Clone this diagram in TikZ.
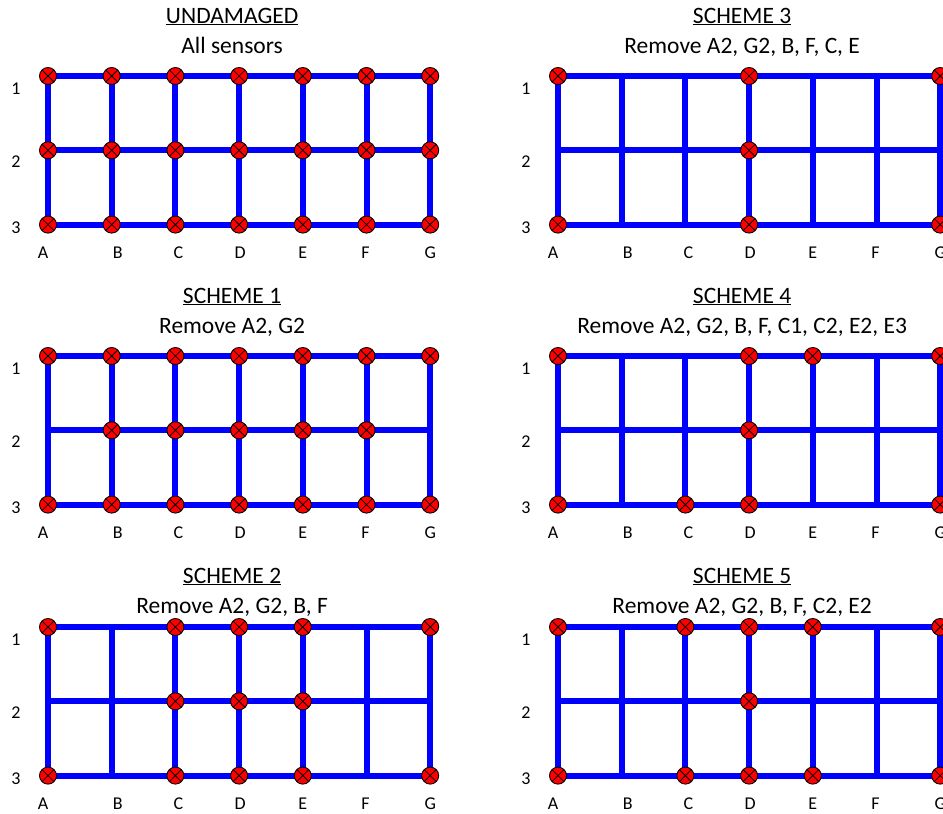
\documentclass[tikz,border=0pt]{standalone}
\usepackage{fontspec}
\setmainfont{Carlito}
\usepackage{xcolor}
\usepackage{tikz}
\usetikzlibrary{calc}
\definecolor{beamblue}{RGB}{0,0,255}
\definecolor{sensorred}{RGB}{255,0,0}
\tikzset{
  beam/.style={beamblue,line width=6pt},
  sensor/.style={circle,draw=black,fill=sensorred,line width=0.9pt,
    minimum size=17pt,inner sep=0pt,
    path picture={\draw[line width=0.8pt]
      (path picture bounding box.north west) -- (path picture bounding box.south east)
      (path picture bounding box.north east) -- (path picture bounding box.south west);}},
  headtext/.style={anchor=base,font=\fontsize{23.5}{26}\selectfont},
  gridlabel/.style={anchor=base,font=\fontsize{18}{20}\selectfont}
}
% #1 panel, #2 x of A1, #3 y of A1, #4 title shift, #5 title, #6 subtitle, #7 sensors
\newcommand{\sensorpanel}[7]{%
  \foreach \c [count=\i from 0] in {A,...,G}{
    \foreach \r [count=\j from 0] in {1,2,3}
      \coordinate (#1-\c\r) at ({#2+\i*63.7},{#3+\j*74.3});
  }
  \draw[beam] (#1-A1) -- (#1-G1) -- (#1-G3) -- (#1-A3) -- cycle;
  \draw[beam] (#1-A2) -- (#1-G2);
  \foreach \c in {B,...,F}
    \draw[beam] (#1-\c1) -- (#1-\c3);
  \foreach \s in {#7}
    \node[sensor] (#1-s\s) at (#1-\s) {};
  \node[headtext] (#1-title) at ($(#1-A1)!0.5!(#1-G1)+(-7,{-53+#4})$) {\underline{#5}};
  \node[headtext] (#1-sub) at ($(#1-A1)!0.5!(#1-G1)+(-7,{-23+#4})$) {#6};
  \node[gridlabel] (#1-row1) at ($(#1-A1)+(-32,18)$) {1};
  \node[gridlabel] (#1-row2) at ($(#1-A2)+(-32,17)$) {2};
  \node[gridlabel] (#1-row3) at ($(#1-A3)+(-32,9)$) {3};
  \foreach \c/\dx in {A/-5,B/6,C/3,D/1,E/0,F/-1,G/0}
    \node[gridlabel] (#1-col\c) at ($(#1-\c3)+(\dx,34)$) {\c};
}

\begin{document}
\begin{tikzpicture}[x=1pt,y=-1pt]
  \useasboundingbox (0,0) rectangle (943,814);
  \sensorpanel{und}{48}{76}{0}{UNDAMAGED}{All sensors}
    {A1,A2,A3,B1,B2,B3,C1,C2,C3,D1,D2,D3,E1,E2,E3,F1,F2,F3,G1,G2,G3}
  \sensorpanel{sa}{48}{356}{0}{SCHEME 1}{Remove A2, G2}
    {A1,A3,B1,B2,B3,C1,C2,C3,D1,D2,D3,E1,E2,E3,F1,F2,F3,G1,G3}
  \sensorpanel{sb}{48}{627}{9}{SCHEME 2}{Remove A2, G2, B, F}
    {A1,A3,C1,C2,C3,D1,D2,D3,E1,E2,E3,G1,G3}
  \sensorpanel{sc}{558}{76}{0}{SCHEME 3}{Remove A2, G2, B, F, C, E}
    {A1,A3,D1,D2,D3,G1,G3}
  \sensorpanel{sd}{558}{356}{0}{SCHEME 4}{Remove A2, G2, B, F, C1, C2, E2, E3}
    {A1,A3,C3,D1,D2,D3,E1,G1,G3}
  \sensorpanel{se}{558}{627}{9}{SCHEME 5}{Remove A2, G2, B, F, C2, E2}
    {A1,A3,C1,C3,D1,D2,D3,E1,E3,G1,G3}
\end{tikzpicture}
\end{document}
